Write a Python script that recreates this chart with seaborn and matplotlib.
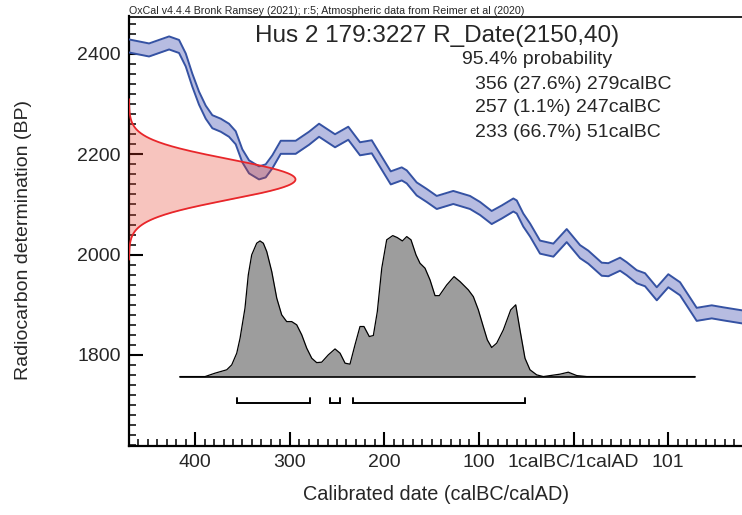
import numpy as np
import pandas as pd
import matplotlib
matplotlib.use("Agg")
import matplotlib.pyplot as plt
import seaborn as sns
from matplotlib.ticker import MultipleLocator, FixedLocator

# Calibration curve centre (signed calendar year, BC < 0) and radiocarbon age
curve_year = [-469.9, -448.7, -427.5, -417.0, -409.9, -403.0, -395.9, -388.8,
              -381.8, -372.9, -364.2, -357.1, -350.1, -343.0, -332.5, -325.4,
              -318.4, -309.5, -293.7, -279.6, -269.0, -252.1, -238.1, -225.7,
              -213.3, -193.2, -181.6, -176.3, -165.8, -155.2, -144.6, -127.1,
              -109.4, -98.8, -86.5, -75.9, -63.6, -60.0, -53.1, -45.9,
              -35.4, -21.3, -7.2, 6.9, 15.6, 29.8, 36.8, 49.2,
              56.2, 66.8, 75.6, 88.0, 100.2, 112.6, 130.2, 146.1,
              158.3, 178.1]
curve_bp = [2416, 2408, 2422, 2415, 2388, 2348, 2312, 2284,
            2265, 2258, 2248, 2233, 2197, 2175, 2163, 2167,
            2185, 2214, 2214, 2232, 2248, 2227, 2242, 2211,
            2215, 2153, 2161, 2155, 2131, 2118, 2104, 2114,
            2104, 2092, 2074, 2085, 2099, 2095, 2069, 2049,
            2015, 2009, 2038, 2006, 1995, 1971, 1970, 1981,
            1972, 1956, 1950, 1922, 1948, 1932, 1881, 1886,
            1882, 1876]
curve_sigma = 13

# Radiocarbon measurement
r_date_mean = 2150
r_date_sd = 40

# Calibrated probability distribution (relative)
post_year = [-416.0, -389.5, -379.0, -366.6, -361.3, -356.0, -352.5, -347.3,
             -343.8, -340.2, -334.9, -331.4, -327.9, -324.3, -319.0, -313.7,
             -308.5, -303.2, -297.9, -292.6, -287.3, -282.0, -276.7, -271.5,
             -266.2, -259.2, -252.1, -246.8, -241.5, -236.3, -231.0, -225.7,
             -221.5, -215.9, -211.6, -207.4, -202.7, -197.5, -191.1, -186.3,
             -180.9, -176.3, -171.8, -166.5, -162.3, -157.0, -151.7, -146.4,
             -141.9, -134.0, -126.3, -120.0, -111.2, -105.9, -100.6, -95.4,
             -91.1, -86.5, -81.2, -74.2, -66.4, -61.1, -56.6, -51.3,
             -46.0, -38.9, -31.9, -14.3, -5.5, 3.4, 14.0, 128.4]
post_prob = [0.0, 0.0, 0.024, 0.048, 0.083, 0.166, 0.272, 0.485,
             0.721, 0.863, 0.946, 0.962, 0.946, 0.887, 0.745, 0.556,
             0.438, 0.390, 0.390, 0.367, 0.296, 0.201, 0.130, 0.099,
             0.102, 0.154, 0.196, 0.166, 0.095, 0.088, 0.225, 0.355,
             0.355, 0.284, 0.291, 0.461, 0.769, 0.970, 1.0, 0.986,
             0.962, 0.993, 0.970, 0.863, 0.804, 0.769, 0.686, 0.574,
             0.574, 0.650, 0.709, 0.674, 0.615, 0.567, 0.473, 0.355,
             0.260, 0.206, 0.237, 0.331, 0.473, 0.509, 0.331, 0.130,
             0.048, 0.012, 0.0, 0.017, 0.031, 0.007, 0.0, 0.0]

# 95.4% highest posterior density ranges (calBC)
range_start = [356, 257, 233]
range_end = [279, 247, 51]
range_pct = [27.6, 1.1, 66.7]

xtick_pos = [-400, -300, -200, -100, 0, 100]
xtick_labels = ["400", "300", "200", "100", "1calBC/1calAD", "101"]
ytick_pos = [1800, 2000, 2200, 2400]

# Layout constants for the plot elements
XLIM = (-469.9, 178.1)
YLIM = (1618.6, 2474.7)
POST_BASE = 1757
POST_HEIGHT = 281
RANGE_Y = 1704
RANGE_TICK = 10
NORMAL_WIDTH = 176

sns.set_theme(style="ticks")
plt.rcParams["font.family"] = ["Liberation Sans", "DejaVu Sans"]

fig = plt.figure(figsize=(7.42, 5.15), dpi=100)
ax = fig.add_axes([129 / 742, 1 - 446 / 515, (742 - 129) / 742, (446 - 16.5) / 515])

# Calibration curve band
curve = pd.DataFrame({"year": curve_year, "bp": curve_bp})
curve["upper"] = curve["bp"] + curve_sigma
curve["lower"] = curve["bp"] - curve_sigma
ax.fill_between(curve["year"], curve["lower"], curve["upper"],
                color="#b7bce1", lw=0, zorder=2)
for col in ("upper", "lower"):
    sns.lineplot(data=curve, x="year", y=col, ax=ax, color="#3552a3",
                 lw=1.4, zorder=3, sort=False, solid_joinstyle="round")

# Radiocarbon measurement as a normal distribution on the y axis
bp_grid = np.linspace(r_date_mean - 4 * r_date_sd, r_date_mean + 4 * r_date_sd, 300)
dens = np.exp(-0.5 * ((bp_grid - r_date_mean) / r_date_sd) ** 2)
x_norm = XLIM[0] + NORMAL_WIDTH * dens
ax.fill_betweenx(bp_grid, XLIM[0], x_norm, color="#e63c28", alpha=0.3,
                 lw=0, zorder=4)
ax.plot(x_norm, bp_grid, color="#e8262a", lw=1.3, zorder=5)

# Calibrated date distribution
post = pd.DataFrame({"year": post_year, "prob": post_prob})
post["y"] = POST_BASE + POST_HEIGHT * post["prob"]
ax.fill_between(post["year"], POST_BASE, post["y"], color="#9d9d9d",
                lw=0, zorder=6)
sns.lineplot(data=post, x="year", y="y", ax=ax, color="black", lw=0.9,
             zorder=7, sort=False, solid_joinstyle="round")
ax.plot([post_year[0], post_year[-1]], [POST_BASE, POST_BASE],
        color="black", lw=1.2, zorder=7)

# Range brackets
for s, e in zip(range_start, range_end):
    ax.plot([-s, -s, -e, -e],
            [RANGE_Y + RANGE_TICK, RANGE_Y, RANGE_Y, RANGE_Y + RANGE_TICK],
            color="black", lw=1.4, zorder=7, solid_joinstyle="miter")

ax.set_xlim(*XLIM)
ax.set_ylim(*YLIM)

ax.xaxis.set_major_locator(FixedLocator(xtick_pos))
ax.set_xticklabels(xtick_labels)
ax.xaxis.set_minor_locator(MultipleLocator(10))
ax.yaxis.set_major_locator(FixedLocator(ytick_pos))
ax.yaxis.set_minor_locator(MultipleLocator(20))

ax.tick_params(axis="both", which="major", direction="in", length=10,
               width=1.5, labelsize=14, pad=6, color="black")
ax.tick_params(axis="both", which="minor", direction="in", length=5,
               width=1.1, color="black")
ax.tick_params(top=False, right=False, which="both")

for side in ("left", "bottom"):
    ax.spines[side].set_linewidth(1.6)
ax.spines["top"].set_linewidth(1.2)
ax.spines["right"].set_visible(False)
for sp in ax.spines.values():
    sp.set_color("black")

ax.set_xlabel("Calibrated date (calBC/calAD)", fontsize=14.3)
ax.set_ylabel("Radiocarbon determination (BP)", fontsize=14)
ax.xaxis.set_label_coords((436.5 - 129) / 613, (446 - 485) / 429.5)
ax.yaxis.set_label_coords((32 - 129) / 613, (446 - 240) / 429.5)

# Header and summary text
fig.text(129 / 742, 1 - 16 / 515,
         "OxCal v4.4.4 Bronk Ramsey (2021); r:5; Atmospheric data from Reimer et al (2020)",
         fontsize=7.7, ha="left", va="bottom")
fig.text(437 / 742, 1 - 36 / 515, "Hus 2 179:3227 R_Date(2150,40)",
         fontsize=17.5, ha="center", va="center")
fig.text(462 / 742, 1 - 59 / 515, "95.4% probability",
         fontsize=14, ha="left", va="center")
line_y = [84, 108, 132]
for (s, e, p), yy in zip(zip(range_start, range_end, range_pct), line_y):
    fig.text(475 / 742, 1 - yy / 515, f"{s} ({p}%) {e}calBC",
             fontsize=14, ha="left", va="center")

fig.savefig("out.png", dpi=100)
